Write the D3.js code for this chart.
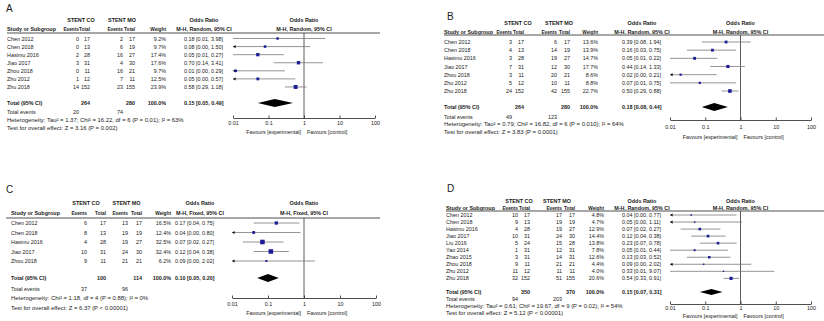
<!DOCTYPE html>
<html>
<head>
<meta charset="utf-8">
<script src="https://cdn.jsdelivr.net/npm/d3@7"></script>
<style>
  body { margin: 0; background: #fff; }
  svg text { fill: #1a1a1a; }
</style>
</head>
<body>
<svg id="chart" width="824" height="321"></svg>
<script>
// ---- panel A data
const studiesA = ["Chen 2012", "Chen 2018", "Hasimu 2016", "Jiao 2017", "Zhou 2018", "Zhu 2012", "Zhu 2018"];
const coEventsA = [0, 0, 2, 3, 0, 1, 14];
const coTotalA = [17, 13, 28, 31, 11, 12, 152];
const moEventsA = [2, 6, 16, 4, 16, 7, 23];
const moTotalA = [17, 19, 27, 30, 21, 11, 155];
const weightA = [9.2, 9.7, 17.4, 17.6, 9.7, 12.5, 23.9];
const orA = [0.18, 0.08, 0.05, 0.70, 0.012, 0.05, 0.58];
const loA = [0.01, 0.00, 0.01, 0.14, 0.00, 0.00, 0.29];
const hiA = [3.98, 1.50, 0.27, 3.41, 0.29, 0.57, 1.18];
const totalsA = [264, 280];
const totalEventsA = [20, 74];
const pooledA = [0.15, 0.05, 0.49];
const hetA = "Heterogeneity: Tau² = 1.37; Chi² = 16.22, df = 6 (P = 0.01); I² = 63%";
const testA = "Test for overall effect: Z = 3.16 (P = 0.002)";

// ---- panel B data
const studiesB = ["Chen 2012", "Chen 2018", "Hasimu 2016", "Jiao 2017", "Zhou 2018", "Zhu 2012", "Zhu 2018"];
const coEventsB = [3, 4, 3, 7, 3, 5, 24];
const coTotalB = [17, 13, 28, 31, 11, 12, 152];
const moEventsB = [6, 14, 19, 12, 20, 10, 42];
const moTotalB = [17, 19, 27, 30, 21, 11, 155];
const weightB = [13.6, 13.9, 14.7, 17.7, 8.6, 8.8, 22.7];
const orB = [0.39, 0.16, 0.05, 0.44, 0.02, 0.07, 0.50];
const loB = [0.08, 0.03, 0.01, 0.14, 0.00, 0.01, 0.29];
const hiB = [1.94, 0.75, 0.22, 1.33, 0.21, 0.75, 0.88];
const totalsB = [264, 280];
const totalEventsB = [49, 123];
const pooledB = [0.18, 0.08, 0.44];
const hetB = "Heterogeneity: Tau² = 0.79; Chi² = 16.82, df = 6 (P = 0.010); I² = 64%";
const testB = "Test for overall effect: Z = 3.83 (P = 0.0001)";

// ---- panel C data
const studiesC = ["Chen 2012", "Chen 2018", "Hasimu 2016", "Jiao 2017", "Zhou 2018"];
const coEventsC = [6, 8, 4, 10, 9];
const coTotalC = [17, 13, 28, 31, 11];
const moEventsC = [13, 19, 19, 24, 21];
const moTotalC = [17, 19, 27, 30, 21];
const weightC = [16.5, 12.4, 32.5, 32.4, 6.2];
const orC = [0.17, 0.04, 0.07, 0.12, 0.09];
const loC = [0.04, 0.00, 0.02, 0.04, 0.00];
const hiC = [0.75, 0.80, 0.27, 0.38, 2.02];
const totalsC = [100, 114];
const totalEventsC = [37, 96];
const pooledC = [0.10, 0.05, 0.20];
const hetC = "Heterogeneity: Chi² = 1.18, df = 4 (P = 0.88); I² = 0%";
const testC = "Test for overall effect: Z = 6.37 (P < 0.00001)";

// ---- panel D data
const studiesD = ["Chen 2012", "Chen 2018", "Hasimu 2016", "Jiao 2017", "Liu 2016", "Yao 2014", "Zhao 2015", "Zhou 2018", "Zhu 2012", "Zhu 2018"];
const coEventsD = [10, 9, 4, 10, 5, 1, 3, 9, 11, 32];
const coTotalD = [17, 13, 28, 31, 24, 31, 31, 11, 12, 152];
const moEventsD = [17, 19, 19, 24, 15, 12, 14, 21, 11, 51];
const moTotalD = [17, 19, 27, 30, 28, 31, 31, 21, 11, 155];
const weightD = [4.8, 4.7, 12.9, 14.4, 13.8, 7.8, 12.6, 4.4, 4.0, 20.6];
const orD = [0.04, 0.05, 0.07, 0.12, 0.23, 0.05, 0.13, 0.09, 0.33, 0.54];
const loD = [0.00, 0.00, 0.02, 0.04, 0.07, 0.01, 0.03, 0.00, 0.01, 0.33];
const hiD = [0.77, 1.11, 0.27, 0.38, 0.78, 0.44, 0.52, 2.02, 9.07, 0.91];
const totalsD = [350, 370];
const totalEventsD = [94, 203];
const pooledD = [0.15, 0.07, 0.31];
const hetD = "Heterogeneity: Tau² = 0.61; Chi² = 19.67, df = 9 (P = 0.02); I² = 54%";
const testD = "Test for overall effect: Z = 5.12 (P < 0.00001)";

const orTicks = [0.01, 0.1, 1, 10, 100];

const svg = d3.select('#chart');
const family = '"Liberation Sans", Arial, sans-serif';
const sqColor = '#1c1c96';

// size a font so a sample string has the width it has in the picture
function fitSize(sample, weight, target){
  let t = svg.append('text').attr('x', -500).attr('y', -500)
    .style('font-family', family).style('font-weight', weight)
    .style('font-size', '20px').text(sample);
  let w = t.node().getComputedTextLength();
  t.remove();
  return 20 * target / w;
}

const fsTable = Math.min(5.4, fitSize('0.18 [0.01, 3.98]', 'normal', 46.5));
const fsTitle = fitSize('Study or Subgroup', 'bold', 49);
const fsHead = fitSize('Total', 'bold', 11);
const fsWide = fitSize(hetA, 'normal', 177);

function drawPanel(L, D){
  let g = svg.append('g').attr('class', 'panel');
  let x = d3.scaleLog().domain([0.01, 100]).range([L.px0, L.px1]).clamp(true);
  let xMid = x(1);

  let text = (px, py, s, anchor, bold, size) => g.append('text')
    .attr('x', px).attr('y', py)
    .attr('dominant-baseline', 'central')
    .attr('text-anchor', anchor || 'start')
    .style('font-family', family)
    .style('font-size', (size || fsTable) + 'px')
    .style('font-weight', bold ? 'bold' : 'normal')
    .text(s);

  let orText = (e, lo, hi) => e.toFixed(2) + ' [' + lo.toFixed(2) + ', ' + hi.toFixed(2) + ']';

  // panel letter
  text(L.lx, L.ly, L.letter, 'start', false, 10);

  // headers
  text(L.coMid, L.h1, 'STENT CO', 'middle', true, fsTitle);
  text(L.moMid, L.h1, 'STENT MO', 'middle', true, fsTitle);
  text(L.orMid, L.h1, 'Odds Ratio', 'middle', true, fsTitle);
  text(xMid, L.h1, 'Odds Ratio', 'middle', true, fsTitle);
  text(L.studyX, L.h2, 'Study or Subgroup', 'start', true, fsTitle);
  text(L.coEv, L.h2, 'Events', 'end', true, fsHead);
  text(L.coTot, L.h2, 'Total', 'end', true, fsHead);
  text(L.moEv, L.h2, 'Events', 'end', true, fsHead);
  text(L.moTot, L.h2, 'Total', 'end', true, fsHead);
  text(L.wt, L.h2, 'Weight', 'end', true, fsHead);
  let method = 'M-H, ' + L.method + ', 95% CI';
  text(L.orMid, L.h2, method, 'middle', true, fsTitle);
  text(xMid, L.h2, method, 'middle', true, fsTitle);

  g.append('line')
    .attr('x1', L.ruleX0).attr('x2', L.ruleX1)
    .attr('y1', L.rule).attr('y2', L.rule)
    .attr('stroke', '#8a8a8a').attr('stroke-width', 1.3);

  // study rows
  let yRow = i => L.row0 + i * L.step;
  D.studies.forEach((s, i) => {
    let y = yRow(i);
    text(L.studyX, y, s);
    text(L.coEv, y, D.coEv[i], 'end');
    text(L.coTot, y, D.coTot[i], 'end');
    text(L.moEv, y, D.moEv[i], 'end');
    text(L.moTot, y, D.moTot[i], 'end');
    text(L.wt, y, D.wt[i].toFixed(1) + '%', 'end');
    text(L.orX, y, orText(D.or[i], D.lo[i], D.hi[i]));
  });

  // reference line at OR = 1
  g.append('line')
    .attr('x1', xMid).attr('x2', xMid)
    .attr('y1', L.rule).attr('y2', L.axisY)
    .attr('stroke', '#333').attr('stroke-width', 0.8);

  // CI lines
  g.selectAll('.ci').data(D.studies).enter().append('line')
    .attr('class', 'ci')
    .attr('x1', (d, i) => x(Math.max(D.lo[i], 0.01)))
    .attr('x2', (d, i) => x(D.hi[i]))
    .attr('y1', (d, i) => yRow(i)).attr('y2', (d, i) => yRow(i))
    .attr('stroke', '#7a7a7a').attr('stroke-width', 0.8);

  // arrows where CI runs past the axis
  g.selectAll('.arrow').data(D.studies.filter((d, i) => D.lo[i] < 0.01)).enter().append('path')
    .attr('class', 'arrow')
    .attr('d', d => {
      let i = D.studies.indexOf(d);
      let ax = x(0.01), ay = yRow(i);
      return 'M' + ax + ',' + ay + 'L' + (ax + 2.6) + ',' + (ay - 1.6) + 'L' + (ax + 2.6) + ',' + (ay + 1.6) + 'Z';
    })
    .attr('fill', '#111');

  // weighted squares
  g.selectAll('.sq').data(D.studies).enter().append('rect')
    .attr('class', 'sq')
    .attr('x', (d, i) => x(D.or[i]) - L.sq * Math.sqrt(D.wt[i]) / 2)
    .attr('y', (d, i) => yRow(i) - L.sq * Math.sqrt(D.wt[i]) / 2)
    .attr('width', (d, i) => L.sq * Math.sqrt(D.wt[i]))
    .attr('height', (d, i) => L.sq * Math.sqrt(D.wt[i]))
    .attr('fill', sqColor);

  // total row
  text(L.studyX, L.total, 'Total (95% CI)', 'start', true);
  text(L.coTot, L.total, D.totals[0], 'end', true);
  text(L.moTot, L.total, D.totals[1], 'end', true);
  text(L.wt, L.total, '100.0%', 'end', true);
  text(L.orX, L.total, orText(D.pooled[0], D.pooled[1], D.pooled[2]), 'start', true);

  g.append('path')
    .attr('d', 'M' + x(D.pooled[1]) + ',' + L.total +
      'L' + x(D.pooled[0]) + ',' + (L.total - L.dh) +
      'L' + x(D.pooled[2]) + ',' + L.total +
      'L' + x(D.pooled[0]) + ',' + (L.total + L.dh) + 'Z')
    .attr('fill', '#000');

  text(L.studyX, L.totEv, 'Total events');
  text(L.coEv, L.totEv, D.totalEvents[0], 'end');
  text(L.moEv, L.totEv, D.totalEvents[1], 'end');
  text(L.studyX, L.het, D.het, 'start', false, fsWide);
  text(L.studyX, L.test, D.test, 'start', false, fsWide);

  // log axis
  let axis = d3.axisBottom(x)
    .tickValues(orTicks)
    .tickFormat(d => String(d))
    .tickSizeInner(-2.5)
    .tickSizeOuter(0)
    .tickPadding(L.tickPad);
  let ax = g.append('g').attr('transform', 'translate(0,' + L.axisY + ')').call(axis);
  ax.select('.domain').attr('stroke', '#222').attr('stroke-width', 0.8);
  ax.selectAll('.tick line').attr('stroke', '#222').attr('stroke-width', 0.8);
  ax.selectAll('.tick text')
    .attr('font-family', null)
    .style('font-family', family)
    .style('font-size', fsTable + 'px')
    .attr('fill', '#1a1a1a');

  text(xMid - 3, L.favY, 'Favours [experimental]', 'end');
  text(xMid + 3, L.favY, 'Favours [control]', 'start');
}

const layoutA = {letter: 'A', lx: 6, ly: 8.5, h1: 20, h2: 29, rule: 33, row0: 38.5, step: 8.08,
  total: 103, totEv: 112, het: 120, test: 128,
  studyX: 7, coEv: 79, coTot: 90, moEv: 123, moTot: 135, wt: 166, orX: 184, orMid: 204,
  coMid: 81, moMid: 122, ruleX0: 7, ruleX1: 380, px0: 233, px1: 375,
  axisY: 118, tickPad: 3, favY: 131.5, dh: 4, sq: 0.8, method: 'Random'};
const layoutB = {letter: 'B', lx: 447, ly: 16, h1: 23, h2: 32, rule: 35, row0: 42, step: 8.17,
  total: 107, totEv: 117, het: 124, test: 132,
  studyX: 444, coEv: 512, coTot: 524, moEv: 557, moTot: 570, wt: 598, orX: 622, orMid: 642,
  coMid: 518, moMid: 559, ruleX0: 444, ruleX1: 824, px0: 670, px1: 811,
  axisY: 120, tickPad: 5, favY: 137, dh: 4, sq: 0.75, method: 'Random'};
const layoutC = {letter: 'C', lx: 6, ly: 189.5, h1: 203, h2: 213, rule: 218, row0: 223, step: 9.5,
  total: 278, totEv: 289, het: 298, test: 308,
  studyX: 11, coEv: 87, coTot: 106, moEv: 128, moTot: 142, wt: 171, orX: 175, orMid: 200,
  coMid: 86, moMid: 126.5, ruleX0: 6, ruleX1: 380, px0: 232, px1: 376,
  axisY: 298, tickPad: 4, favY: 313, dh: 4, sq: 0.8, method: 'Fixed'};
const layoutD = {letter: 'D', lx: 447, ly: 188.5, h1: 201, h2: 208, rule: 211, row0: 215, step: 7.04,
  total: 292, totEv: 299, het: 306, test: 313,
  studyX: 446, coEv: 518, coTot: 530, moEv: 562, moTot: 575, wt: 604, orX: 622, orMid: 642,
  coMid: 519, moMid: 557, ruleX0: 446, ruleX1: 824, px0: 670, px1: 811,
  axisY: 304, tickPad: 1.8, favY: 315.5, dh: 3, sq: 0.7, method: 'Random'};

drawPanel(layoutA, {studies: studiesA, coEv: coEventsA, coTot: coTotalA, moEv: moEventsA, moTot: moTotalA,
  wt: weightA, or: orA, lo: loA, hi: hiA, totals: totalsA, totalEvents: totalEventsA, pooled: pooledA, het: hetA, test: testA});
drawPanel(layoutB, {studies: studiesB, coEv: coEventsB, coTot: coTotalB, moEv: moEventsB, moTot: moTotalB,
  wt: weightB, or: orB, lo: loB, hi: hiB, totals: totalsB, totalEvents: totalEventsB, pooled: pooledB, het: hetB, test: testB});
drawPanel(layoutC, {studies: studiesC, coEv: coEventsC, coTot: coTotalC, moEv: moEventsC, moTot: moTotalC,
  wt: weightC, or: orC, lo: loC, hi: hiC, totals: totalsC, totalEvents: totalEventsC, pooled: pooledC, het: hetC, test: testC});
drawPanel(layoutD, {studies: studiesD, coEv: coEventsD, coTot: coTotalD, moEv: moEventsD, moTot: moTotalD,
  wt: weightD, or: orD, lo: loD, hi: hiD, totals: totalsD, totalEvents: totalEventsD, pooled: pooledD, het: hetD, test: testD});
</script>
</body>
</html>
